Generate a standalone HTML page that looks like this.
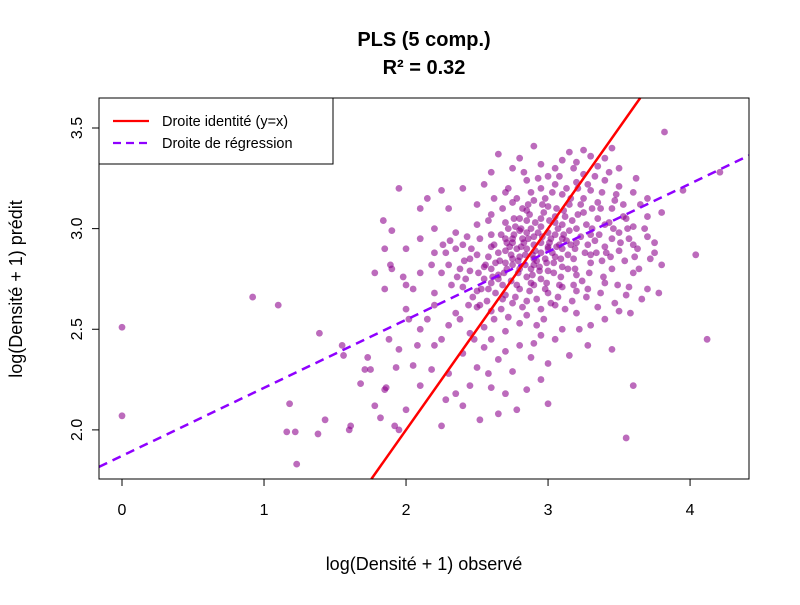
<!DOCTYPE html>
<html><head><meta charset="utf-8"><style>
body{margin:0;background:#fff}
svg text{font-family:"Liberation Sans",Arial,sans-serif}
</style></head><body>
<svg id="chart" width="800" height="600" xmlns="http://www.w3.org/2000/svg">
<rect width="800" height="600" fill="#fff"/>
<text x="424" y="46" font-size="20" font-weight="bold" text-anchor="middle">PLS (5 comp.)</text>
<text x="424" y="74" font-size="20" font-weight="bold" text-anchor="middle">R² = 0.32</text>
<g id="points"></g>
<g id="lines"></g>
<rect x="99" y="98" width="650" height="381" fill="none" stroke="#000" stroke-width="1"/>
<g id="axes"></g>
<text x="424" y="570" font-size="18" text-anchor="middle">log(Densité + 1) observé</text>
<text transform="translate(22,289) rotate(-90)" font-size="18" text-anchor="middle">log(Densité + 1) prédit</text>
<g>
<rect x="99" y="98" width="234" height="66" fill="#fff" stroke="#000"/>
<line x1="113" y1="121" x2="149" y2="121" stroke="#ff0000" stroke-width="2.2"/>
<text x="162" y="126" font-size="14.5">Droite identité (y=x)</text>
<line x1="113" y1="143" x2="149" y2="143" stroke="#8f00ff" stroke-width="2.2" stroke-dasharray="8,5"/>
<text x="162" y="148" font-size="14.5">Droite de régression</text>
</g>
</svg>
<script>
const xTicks=[0,1,2,3,4];
const yTicks=[2.0,2.5,3.0,3.5];
const yTickLabels=["2.0","2.5","3.0","3.5"];
const regIntercept=1.871;
const regSlope=0.338;
const points=[
[0,2.51],[0,2.07],[0.92,2.66],[1.1,2.62],[1.18,2.13],[1.16,1.99],[1.22,1.99],[1.23,1.83],[1.39,2.48],[1.38,1.98],[1.43,2.05],[1.55,2.42],[1.56,2.37],[1.6,2.0],[1.61,2.02],[1.68,2.23],[1.71,2.3],[1.73,2.36],[1.78,2.12],[1.82,2.06],[1.86,2.21],[1.92,2.02],
[4.21,3.28],[4.12,2.45],[4.04,2.87],[3.82,3.48],[3.6,2.22],[3.55,1.96],[3.78,2.68],[3.75,2.93],[3.7,3.06],[3.95,3.19],
[1.78,2.78],[1.84,3.04],[1.89,2.82],[1.95,3.2],[1.98,2.76],[2.05,2.7],[2.1,2.95],[2.15,3.15],[2.02,2.55],[1.93,2.31],[1.88,2.45],
[2.8,3.35],[2.95,3.32],[3.05,3.3],[3.15,3.38],[3.2,3.33],[3.3,3.36],[3.35,3.31],[3.45,3.4],[2.65,3.37],[3.1,3.34],[3.25,3.39],[2.9,3.41],
[2.55,3.22],[2.7,3.18],[2.85,3.24],[2.95,3.2],[3.0,3.26],[3.1,3.17],[3.2,3.23],[3.3,3.19],[3.4,3.24],[3.5,3.21],[3.6,3.18],[2.4,3.2],[3.7,3.15],[2.25,3.19],[3.05,3.22],[3.25,3.27],
[2.3,3.1],[2.5,3.12],[2.6,3.07],[2.75,3.13],[2.85,3.09],[2.9,3.14],[3.0,3.11],[3.05,3.06],[3.15,3.12],[3.25,3.08],[3.35,3.13],[3.45,3.1],[3.55,3.05],[3.65,3.12],[3.8,3.08],[2.1,3.1],[2.95,3.05],[3.1,3.02],
[2.2,3.0],[2.35,2.98],[2.5,3.02],[2.6,2.97],[2.7,3.03],[2.8,2.99],[2.85,3.04],[2.9,2.96],[2.95,3.01],[3.0,2.98],[3.05,3.03],[3.1,2.95],[3.2,3.0],[3.3,2.97],[3.4,3.02],[3.5,2.98],[3.6,3.01],[3.7,2.96],[1.9,2.99],[2.75,2.95],[2.88,3.0],[3.15,2.99],
[2.0,2.9],[2.2,2.88],[2.4,2.92],[2.5,2.87],[2.6,2.91],[2.7,2.89],[2.75,2.93],[2.8,2.86],[2.85,2.9],[2.9,2.92],[2.95,2.88],[3.0,2.91],[3.05,2.86],[3.1,2.9],[3.2,2.93],[3.3,2.87],[3.4,2.91],[3.5,2.89],[3.6,2.92],[3.75,2.88],[1.85,2.9],[2.82,2.95],[2.92,2.84],[3.02,2.95],
[1.9,2.8],[2.1,2.78],[2.3,2.82],[2.45,2.79],[2.55,2.81],[2.65,2.77],[2.7,2.83],[2.8,2.8],[2.85,2.76],[2.9,2.82],[3.0,2.79],[3.1,2.81],[3.2,2.77],[3.3,2.83],[3.45,2.8],[3.6,2.78],[3.8,2.82],[2.75,2.85],[2.95,2.75],
[1.85,2.7],[2.0,2.72],[2.2,2.68],[2.4,2.71],[2.5,2.69],[2.6,2.73],[2.7,2.67],[2.8,2.7],[2.9,2.72],[3.0,2.68],[3.1,2.71],[3.2,2.69],[3.4,2.73],[3.55,2.67],[3.7,2.7],[2.65,2.75],[2.85,2.64],
[2.0,2.6],[2.2,2.62],[2.35,2.58],[2.5,2.61],[2.6,2.59],[2.75,2.63],[2.85,2.57],[2.95,2.6],[3.05,2.62],[3.2,2.58],[3.35,2.61],[3.5,2.59],
[2.1,2.5],[2.3,2.52],[2.45,2.48],[2.55,2.51],[2.7,2.49],[2.8,2.53],[2.95,2.47],[3.1,2.5],[3.3,2.52],
[1.95,2.4],[2.2,2.42],[2.4,2.38],[2.55,2.41],[2.7,2.39],[2.9,2.43],[3.15,2.37],[3.45,2.4],
[1.75,2.3],[2.05,2.32],[2.3,2.28],[2.5,2.31],[2.75,2.29],[3.0,2.33],
[1.85,2.2],[2.1,2.22],[2.35,2.18],[2.6,2.21],[2.85,2.2],[2.0,2.1],[2.4,2.12],[2.65,2.08],[3.0,2.13],[1.95,2.0],[2.25,2.02],
[2.7,2.95],[2.8,3.05],[2.9,2.85],[3.0,2.9],[2.75,2.82],[2.85,2.98],[2.95,2.93],[3.05,2.97],[2.65,2.88],[2.6,2.8],[2.78,2.9],[2.88,2.8],[2.98,2.85],[3.08,2.92],[3.12,3.06],[2.72,3.0],[2.62,2.92],[2.82,3.1],[3.18,2.85],[3.28,2.92],[2.55,2.75],[2.68,2.72],[3.35,3.05],[3.45,2.95],[3.25,3.15],[2.45,2.85],[2.52,2.95],[3.38,2.84],
[2.67,2.97],[2.73,2.91],[2.77,3.01],[2.83,2.93],[2.87,3.07],[2.93,2.98],[2.97,3.08],[3.03,2.88],[3.07,3.0],[3.13,2.94],[3.17,3.04],[3.23,2.96],[3.27,3.02],[3.33,2.94],[3.37,3.1],[3.43,3.03],[3.47,3.14],[3.53,3.06],[3.57,2.95],[3.63,2.9],
[2.58,2.86],[2.63,2.83],[2.69,2.78],[2.74,2.74],[2.79,2.84],[2.84,2.87],[2.89,2.77],[2.94,2.81],[2.99,2.73],[3.04,2.83],[3.09,2.76],[3.14,2.87],[3.19,2.8],[3.24,2.74],[3.29,2.78],[3.34,2.88],[3.39,2.76],[3.44,2.86],[3.49,2.72],[3.54,2.84],
[2.42,2.75],[2.47,2.66],[2.53,2.7],[2.57,2.64],[2.63,2.68],[2.67,2.6],[2.72,2.56],[2.77,2.66],[2.82,2.61],[2.87,2.69],[2.92,2.65],[2.97,2.55],[3.02,2.63],[3.07,2.66],[3.12,2.6],[3.17,2.64],[3.27,2.66],[3.37,2.68],[3.47,2.63],[3.57,2.71],
[2.72,3.2],[2.78,3.15],[2.83,3.28],[2.88,3.18],[2.93,3.25],[2.98,3.15],[3.03,3.18],[3.08,3.26],[3.13,3.2],[3.18,3.3],[3.23,3.12],[3.28,3.22],[3.33,3.26],[3.38,3.18],[3.43,3.28],[3.48,3.17],[3.53,3.12],[2.62,3.15],[2.58,3.04],[2.68,3.1],
[2.35,2.9],[2.38,2.8],[2.43,2.96],[2.28,2.88],[2.32,2.72],[2.25,2.78],[2.18,2.82],[2.44,2.62],[2.38,2.55],[2.48,2.45],[2.6,2.45],[2.65,2.35],[2.58,2.28],[2.8,2.42],[2.88,2.36],[2.92,2.52],[3.05,2.45],[3.22,2.5],[3.28,2.42],[3.4,2.55],
[2.75,3.3],[2.6,3.28],[3.4,3.35],[3.5,3.3],[3.62,3.25],[3.68,3.0],[3.72,2.85],[3.64,2.8],[3.66,2.65],[3.58,2.58],[2.15,2.55],[2.08,2.42],[2.25,2.45],[2.18,2.3],[2.28,2.15],[2.45,2.22],[2.52,2.05],[2.7,2.18],[2.78,2.1],[2.95,2.25],
[2.71,2.93],[2.76,2.97],[2.81,2.91],[2.86,2.95],[2.91,2.89],[2.96,2.96],[3.01,2.93],[3.06,2.91],[3.11,2.97],[3.16,2.92],[2.74,2.87],[2.79,2.78],[2.84,2.82],[2.89,2.87],[2.94,2.79],[2.99,2.83],[3.04,2.78],[3.09,2.85],[3.14,2.8],[3.19,2.9],
[2.76,3.05],[2.81,3.0],[2.86,3.12],[2.91,3.03],[2.96,3.12],[3.01,3.04],[3.06,3.1],[3.11,3.09],[3.16,3.15],[3.21,3.07],[2.66,2.84],[2.71,2.8],[2.61,2.76],[2.56,2.82],[2.51,2.78],[2.46,2.9],[2.41,2.84],[2.36,2.76],[2.31,2.94],[2.26,2.92],
[3.26,2.88],[3.31,3.0],[3.36,2.97],[3.41,2.88],[3.46,3.0],[3.51,2.93],[3.56,3.0],[3.61,2.86],[3.31,3.1],[3.21,3.2],[2.98,2.7],[3.08,2.72],[2.88,2.73],[2.78,2.72],[2.68,2.65],[3.18,2.72],[3.28,2.7],[2.58,2.7],[2.52,2.62],[2.62,2.55]
];
const X0=-0.162,X1=4.415,Y0=1.756,Y1=3.649;
const L=99,R=749,T=98,B=479;
function sx(v){return L+(v-X0)/(X1-X0)*(R-L);}
function sy(v){return B-(v-Y0)/(Y1-Y0)*(B-T);}
const NS="http://www.w3.org/2000/svg";
const pg=document.getElementById('points');
points.forEach(p=>{
 const c=document.createElementNS(NS,'circle');
 c.setAttribute('cx',sx(p[0]));c.setAttribute('cy',sy(p[1]));c.setAttribute('r',3.4);
 c.setAttribute('fill','rgba(139,0,139,0.58)');
 
 
 pg.appendChild(c);
});
const lg=document.getElementById('lines');
function seg(x1,y1,x2,y2,color,dash,name){
 const l=document.createElementNS(NS,'line');
 l.setAttribute('x1',sx(x1));l.setAttribute('y1',sy(y1));l.setAttribute('x2',sx(x2));l.setAttribute('y2',sy(y2));
 l.setAttribute('stroke',color);l.setAttribute('stroke-width','2.5');
 if(dash)l.setAttribute('stroke-dasharray',dash);
 
 
 lg.appendChild(l);
}
seg(X0,regIntercept+regSlope*X0,X1,regIntercept+regSlope*X1,'#8f00ff','9,6','regression-line');
seg(Y0,Y0,Y1,Y1,'#ff0000',null,'identity-line');
const ag=document.getElementById('axes');
xTicks.forEach(t=>{
 const l=document.createElementNS(NS,'line');
 l.setAttribute('x1',sx(t));l.setAttribute('x2',sx(t));l.setAttribute('y1',B);l.setAttribute('y2',B+7);l.setAttribute('stroke','#000');
 
 
 ag.appendChild(l);
 const tx=document.createElementNS(NS,'text');
 tx.setAttribute('x',sx(t));tx.setAttribute('y',B+36);tx.setAttribute('font-size','16');tx.setAttribute('text-anchor','middle');
 tx.textContent=String(t);
 
 
 ag.appendChild(tx);
});
yTicks.forEach((t,i)=>{
 const l=document.createElementNS(NS,'line');
 l.setAttribute('x1',L-7);l.setAttribute('x2',L);l.setAttribute('y1',sy(t));l.setAttribute('y2',sy(t));l.setAttribute('stroke','#000');
 
 
 ag.appendChild(l);
 const tx=document.createElementNS(NS,'text');
 tx.setAttribute('transform','translate('+(L-17)+','+sy(t)+') rotate(-90)');
 tx.setAttribute('font-size','16');tx.setAttribute('text-anchor','middle');
 tx.textContent=yTickLabels[i];
 
 
 ag.appendChild(tx);
});
</script>
</body></html>
